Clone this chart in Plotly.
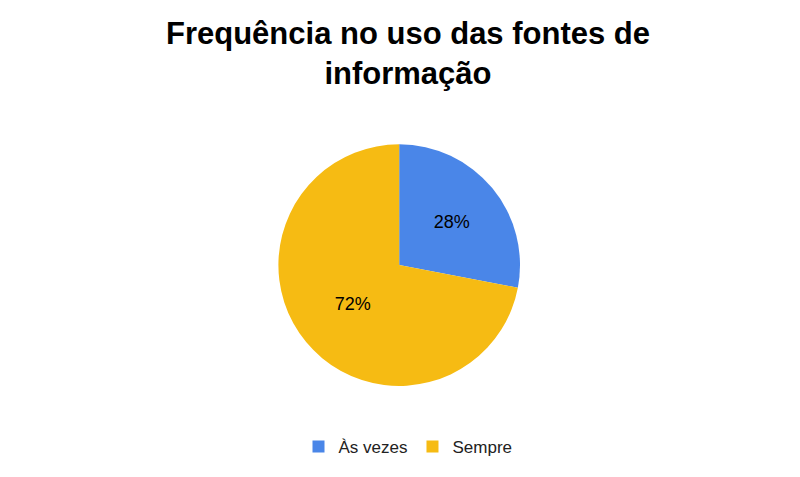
import plotly.graph_objects as go

labels = ["Às vezes", "Sempre"]
values = [28, 72]
colors = ["#4a86e8", "#f6bb13"]

fig = go.Figure()
fig.add_trace(go.Pie(
    labels=labels,
    values=values,
    marker=dict(colors=colors, line=dict(color="white", width=0)),
    sort=False,
    direction="clockwise",
    rotation=0,
    textinfo="percent",
    textposition="inside",
    insidetextfont=dict(color="black", size=18, family="Liberation Sans"),
    domain=dict(x=[0.338, 0.64], y=[0.207, 0.715]),
))
fig.update_layout(
    width=800, height=477,
    margin=dict(l=0, r=0, t=0, b=0),
    paper_bgcolor="white",
    title=dict(text="<b>Frequência no uso das fontes de<br>informação</b>",
               x=0.5, xanchor="center", y=0.925, yanchor="top",
               font=dict(family="Liberation Sans", size=31, color="black")),
    legend=dict(orientation="h", x=0.5, xanchor="center", y=0.08, yanchor="middle",
                font=dict(family="Liberation Sans", size=17, color="#222")),
)
fig.write_html("out.html")
